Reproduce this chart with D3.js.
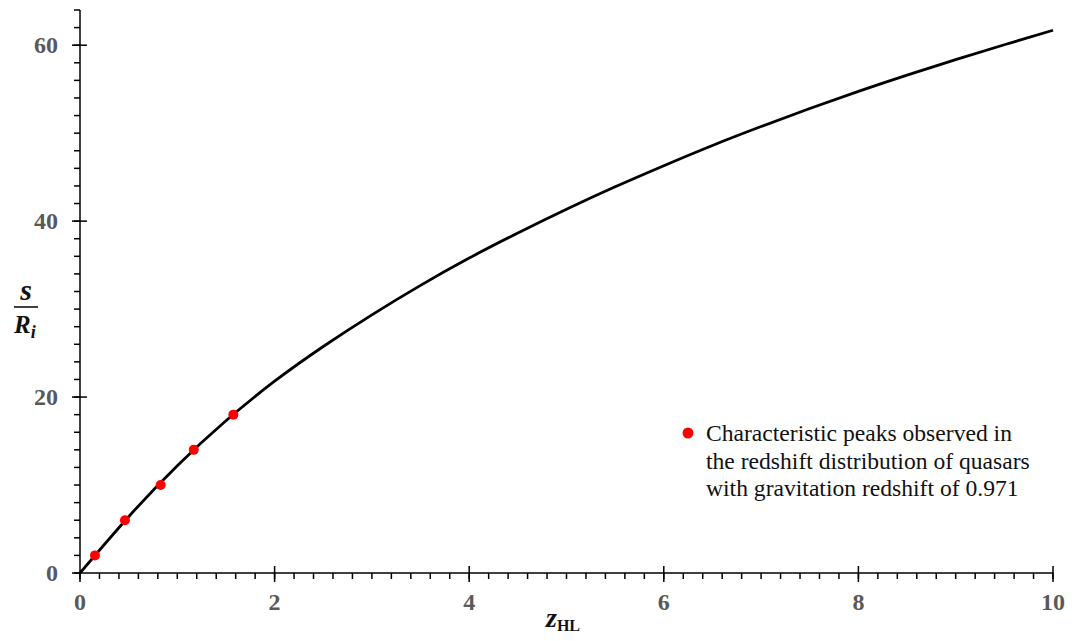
<!DOCTYPE html>
<html><head><meta charset="utf-8">
<script src="https://cdn.jsdelivr.net/npm/d3@7"></script>
<style>html,body{margin:0;padding:0;background:#fff;}</style>
</head><body>
<svg id="chart" width="1074" height="641"></svg>
<script>
// Curve
const curveZ = [0, 0.5, 1, 1.5, 2, 2.5, 3, 3.5, 4, 4.5, 5, 5.5, 6, 6.5, 7, 7.5, 8, 8.5, 9, 9.5, 10];
const curveS = [0, 6.4, 12.2, 17.3, 21.8, 25.75, 29.35, 32.7, 35.8, 38.65, 41.35, 43.9, 46.3, 48.6, 50.75, 52.8, 54.75, 56.6, 58.35, 60.05, 61.7];
// Red points
const peakZ = [0.154, 0.462, 0.829, 1.169, 1.576];
const peakS = [2, 6, 10, 14, 18];
const xTicks = [0, 2, 4, 6, 8, 10];
const yTicks = [0, 20, 40, 60];
const legendLines = ["Characteristic peaks observed in", "the redshift distribution of quasars", "with gravitation redshift of 0.971"];

const FONT = '"Liberation Serif"';
const svg = d3.select("#chart");
const x = d3.scaleLinear().domain([0, 10]).range([80, 1053]);
const y = d3.scaleLinear().domain([0, 64]).range([573, 10]);

// x axis
const gx = svg.append("g");
gx.selectAll("line.minor").data(d3.range(0, 10.001, 0.2).map(v => +v.toFixed(1)))
  .join("line").attr("x1", d => x(d)).attr("x2", d => x(d))
  .attr("y1", y(0)).attr("y2", y(0) + 6).attr("stroke", "#000").attr("stroke-width", 1.5);
gx.selectAll("line.major").data(xTicks).join("line")
  .attr("x1", d => x(d)).attr("x2", d => x(d))
  .attr("y1", d => d === 0 ? y(0) : y(0) - 7).attr("y2", y(0) + 9)
  .attr("stroke", "#000").attr("stroke-width", 1.5);
gx.append("line").attr("x1", x(0)).attr("x2", x(10)).attr("y1", y(0)).attr("y2", y(0))
  .attr("stroke", "#000").attr("stroke-width", 1.5);
gx.selectAll("text").data(xTicks).join("text")
  .attr("x", d => x(d)).attr("y", 610).attr("text-anchor", "middle")
  .style("font-family", FONT).style("font-weight", "bold").style("font-size", "24px")
  .attr("fill", "#595959").text(d => d);

// y axis
const gy = svg.append("g");
gy.selectAll("line.minor").data(d3.range(0, 64.001, 2))
  .join("line").attr("x1", x(0) - 6).attr("x2", x(0))
  .attr("y1", d => y(d)).attr("y2", d => y(d)).attr("stroke", "#000").attr("stroke-width", 1.5);
gy.selectAll("line.major").data(yTicks).join("line")
  .attr("x1", x(0) - 8).attr("x2", d => d === 0 ? x(0) : x(0) + 7)
  .attr("y1", d => y(d)).attr("y2", d => y(d)).attr("stroke", "#000").attr("stroke-width", 1.5);
gy.append("line").attr("x1", x(0)).attr("x2", x(0)).attr("y1", y(0)).attr("y2", y(64))
  .attr("stroke", "#000").attr("stroke-width", 1.5);
gy.selectAll("text").data(yTicks).join("text")
  .attr("x", 58).attr("y", d => y(d) + 8).attr("text-anchor", "end")
  .style("font-family", FONT).style("font-weight", "bold").style("font-size", "24px")
  .attr("fill", "#595959").text(d => d);

// curve
const pts = curveZ.map((z, i) => [z, curveS[i]]);
svg.append("path").datum(pts)
  .attr("d", d3.line().x(d => x(d[0])).y(d => y(d[1])).curve(d3.curveNatural))
  .attr("fill", "none").attr("stroke", "#000").attr("stroke-width", 2.8);

// points
svg.selectAll("circle.peak").data(peakZ.map((z, i) => [z, peakS[i]])).join("circle")
  .attr("cx", d => x(d[0])).attr("cy", d => y(d[1])).attr("r", 5).attr("fill", "#ff0000");

// legend
svg.append("circle").attr("cx", 688).attr("cy", 433).attr("r", 5.5).attr("fill", "#ff0000");
svg.append("g").selectAll("text").data(legendLines).join("text")
  .attr("x", 706).attr("y", (d, i) => 441 + i * 27.7)
  .style("font-family", FONT).style("font-size", "23.6px").attr("fill", "#111").text(d => d);

// y-axis title: s / R_i
svg.append("text").attr("x", 26).attr("y", 300).attr("text-anchor", "middle")
  .style("font-family", FONT).style("font-weight", "bold").style("font-style", "italic")
  .style("font-size", "30px").attr("fill", "#111").text("s");
svg.append("line").attr("x1", 14).attr("x2", 38).attr("y1", 307).attr("y2", 307)
  .attr("stroke", "#111").attr("stroke-width", 1.6);
const rt = svg.append("text").attr("x", 14).attr("y", 333)
  .style("font-family", FONT).style("font-weight", "bold").style("font-style", "italic")
  .style("font-size", "25px").attr("fill", "#111");
rt.append("tspan").text("R");
rt.append("tspan").style("font-size", "18px").attr("dy", 5).text("i");

// x-axis title: z_HL
const xt = svg.append("text").attr("x", 546).attr("y", 627)
  .style("font-family", FONT).style("font-weight", "bold").attr("fill", "#111");
xt.append("tspan").style("font-style", "italic").style("font-size", "28px").text("z");
xt.append("tspan").style("font-size", "16px").attr("dy", 4).text("HL");
</script>
</body></html>
